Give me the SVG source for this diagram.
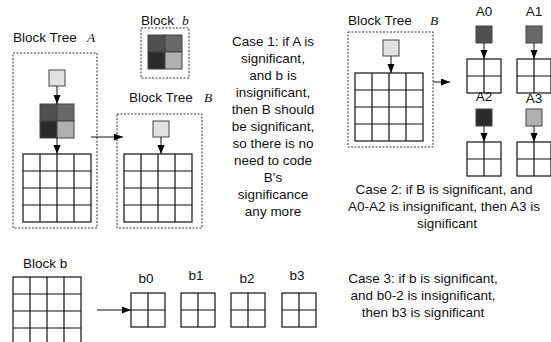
<svg xmlns="http://www.w3.org/2000/svg" width="551" height="342" viewBox="0 0 551 342">
<style>
text{font-family:"Liberation Sans",Arial,sans-serif;font-size:13.5px;fill:#111}
.it{font-family:"Liberation Serif","Times New Roman",serif;font-style:italic;font-size:13.5px}
.c{text-anchor:middle}
.dash{fill:none;stroke:#333;stroke-width:1;stroke-dasharray:2,1.5}
.grid{fill:#fff;stroke:#111;stroke-width:1.2}
.gl{stroke:#111;stroke-width:1.2;fill:none}
.sq{stroke:#444;stroke-width:1}
.light{fill:#e2e2e2}
.d0{fill:#505050}.d1{fill:#686868}.d2{fill:#2a2a2a}.d3{fill:#b0b0b0}
.arr{stroke:#111;stroke-width:1;fill:none;marker-end:url(#ah)}
</style>
<defs>
<marker id="ah" markerUnits="userSpaceOnUse" markerWidth="10" markerHeight="8" refX="9" refY="3.5" orient="auto">
<path d="M0,0 L9,3.5 L0,7 z" fill="#000"/>
</marker>
<g id="g4">
<rect class="grid" x="0" y="0" width="68" height="68"/>
<path class="gl" d="M17,0V68M34,0V68M51,0V68M0,17H68M0,34H68M0,51H68"/>
</g>
<g id="g2">
<rect class="grid" x="0" y="0" width="34" height="34"/>
<path class="gl" d="M17,0V34M0,17H34"/>
</g>
</defs>
<rect width="551" height="342" fill="#fff"/>

<g id="treeA">
<text x="13" y="42">Block Tree</text><text class="it" x="87" y="42">A</text>
<rect class="dash" x="13" y="53" width="84" height="175"/>
<rect class="sq light" x="49" y="70" width="16" height="16"/>
<g class="sq">
<rect class="d0" x="40" y="104" width="17" height="17"/><rect class="d1" x="57" y="104" width="17" height="17"/>
<rect class="d2" x="40" y="121" width="17" height="17"/><rect class="d3" x="57" y="121" width="17" height="17"/>
</g>
<use href="#g4" x="23" y="154"/>
</g>

<g id="blockb">
<text x="141" y="25">Block</text><text class="it" x="182" y="25">b</text>
<rect class="dash" x="141" y="28" width="48" height="50"/>
<g class="sq">
<rect class="d0" x="148" y="35" width="17" height="17"/><rect class="d1" x="165" y="35" width="17" height="17"/>
<rect class="d2" x="148" y="52" width="17" height="17"/><rect class="d3" x="165" y="52" width="17" height="17"/>
</g>
</g>

<g id="treeB">
<text x="129" y="102">Block Tree</text><text class="it" x="204" y="102">B</text>
<rect class="dash" x="117" y="114" width="85" height="114"/>
<rect class="sq light" x="153" y="121" width="16" height="16"/>
<use href="#g4" x="124" y="154"/>
</g>

<g id="case1">
<text class="c" x="273" y="46">Case 1: if A is</text>
<text class="c" x="273" y="63">significant,</text>
<text class="c" x="273" y="80">and b is</text>
<text class="c" x="273" y="97">insignificant,</text>
<text class="c" x="273" y="114">then B should</text>
<text class="c" x="273" y="131">be significant,</text>
<text class="c" x="273" y="148">so there is no</text>
<text class="c" x="273" y="165">need to code</text>
<text class="c" x="273" y="182">B's</text>
<text class="c" x="273" y="199">significance</text>
<text class="c" x="273" y="216">any more</text>
</g>

<g id="treeB2">
<text x="348" y="25">Block Tree</text><text class="it" x="430" y="25">B</text>
<rect class="dash" x="348" y="32" width="85" height="115"/>
<rect class="sq light" x="383" y="40" width="16" height="16"/>
<use href="#g4" x="355" y="73"/>
</g>

<g id="A0">
<text class="c" x="484" y="16">A0</text>
<rect class="sq d0" x="476" y="26" width="16" height="17"/>
<use href="#g2" x="467" y="59"/>
</g>
<g id="A1">
<text class="c" x="534" y="16">A1</text>
<rect class="sq d1" x="526" y="26" width="16" height="17"/>
<use href="#g2" x="517" y="59"/>
</g>
<g id="A2">
<text class="c" x="484" y="101">A2</text>
<rect class="sq d2" x="476" y="109" width="16" height="17"/>
<use href="#g2" x="467" y="142"/>
</g>
<g id="A3">
<text class="c" x="534" y="103">A3</text>
<rect class="sq d3" x="526" y="109" width="16" height="17"/>
<use href="#g2" x="517" y="142"/>
</g>

<g id="case2">
<text class="c" x="444" y="194">Case 2: if B is significant, and</text>
<text class="c" x="444" y="211">A0-A2 is insignificant, then A3 is</text>
<text class="c" x="447" y="228">significant</text>
</g>

<g id="blockb2">
<text x="23" y="268">Block b</text>
<use href="#g4" x="13" y="277"/>
</g>
<g id="b0"><text class="c" x="146" y="283">b0</text><use href="#g2" x="131" y="293"/></g>
<g id="b1"><text class="c" x="196" y="280">b1</text><use href="#g2" x="181" y="293"/></g>
<g id="b2"><text class="c" x="247" y="283">b2</text><use href="#g2" x="231" y="293"/></g>
<g id="b3"><text class="c" x="297" y="280">b3</text><use href="#g2" x="282" y="293"/></g>

<g id="case3">
<text class="c" x="423" y="283">Case 3: if b is significant,</text>
<text class="c" x="423" y="300">and b0-2 is insignificant,</text>
<text class="c" x="423" y="317">then b3 is significant</text>
</g>

<g id="connectors">
<line class="arr" x1="57" y1="86" x2="57" y2="104"/>
<line class="arr" x1="57" y1="138" x2="57" y2="154"/>
<line class="arr" x1="91" y1="137" x2="123" y2="137"/>
<line class="arr" x1="161" y1="137" x2="161" y2="154"/>
<line class="arr" x1="391" y1="56" x2="391" y2="73"/>
<line class="arr" x1="433" y1="82" x2="450" y2="82"/>
<line class="arr" x1="484" y1="43" x2="484" y2="59"/>
<line class="arr" x1="534" y1="43" x2="534" y2="59"/>
<line class="arr" x1="484" y1="126" x2="484" y2="142"/>
<line class="arr" x1="534" y1="126" x2="534" y2="142"/>
<line class="arr" x1="97" y1="310" x2="131" y2="310"/>
</g>
</svg>
